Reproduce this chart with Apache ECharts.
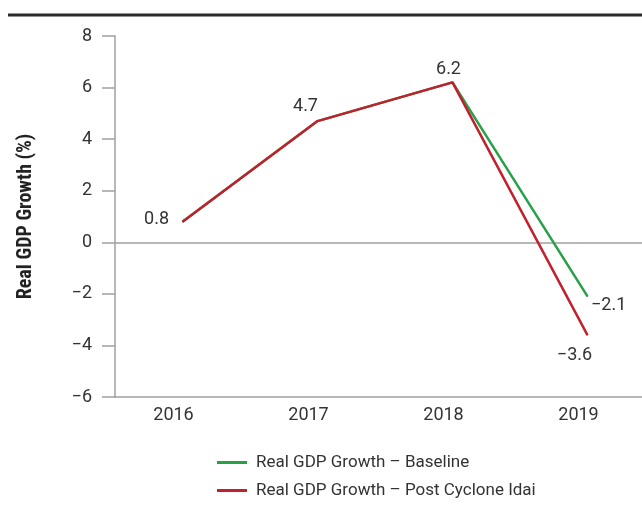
<!DOCTYPE html>
<html>
<head>
<meta charset="utf-8">
<style>
  html, body { margin: 0; padding: 0; background: #fff; }
  #chart { width: 642px; height: 512px; }
</style>
<script src="https://cdn.jsdelivr.net/npm/echarts@6/dist/echarts.min.js"></script>
</head>
<body>
<div id="chart"></div>
<script>
// chart data
var years = ['2016', '2017', '2018', '2019']
var baseline = [0.8, 4.7, 6.2, -2.1]
var postCyclone = [0.8, 4.7, 6.2, -3.6]
var seriesNames = ['Real GDP Growth \u2013 Baseline', 'Real GDP Growth \u2013 Post Cyclone Idai']
var yTicks = { min: -6, max: 8, step: 2 }

var font = "Roboto, 'Liberation Sans', sans-serif"
var textColor = '#333'
var axisColor = '#a0a0a0'
var green = '#27a148'
var red = '#c1212e'

function minus(v) {
  return String(v).replace('-', '\u2212')
}

// where each value label sits (position + small nudge)
var baseLabels = [null, null, null, { position: 'right', offset: [-2, 9] }]
var postLabels = [
  { position: 'left', offset: [-8, -2] },
  { position: 'top', offset: [-12, 0] },
  { position: 'top', offset: [-4, 2] },
  { position: 'bottom', offset: [-13, 6] }
]

function withLabels(values, labels) {
  return values.map(function(v, i) {
    var l = labels[i]
    return {
      value: v,
      label: l ? { show: true, position: l.position, offset: l.offset, distance: 5 } : { show: false }
    }
  })
}

var chart = echarts.init(document.getElementById('chart'))

var valueLabel = {
  color: textColor,
  fontSize: 18,
  fontFamily: font,
  formatter: function(p) { return minus(p.value) }
}

chart.setOption({
  animation: false,
  textStyle: { fontFamily: font },
  grid: {
    left: 115,
    right: -13,
    top: 36,
    bottom: 115,
    outerBoundsMode: 'none'
  },
  graphic: [{
    type: 'line',
    shape: { x1: 8, y1: 15, x2: 642, y2: 15 },
    style: { stroke: '#2b2b2b', lineWidth: 3 }
  }],
  legend: {
    orient: 'vertical',
    left: 212,
    top: 449,
    itemGap: 11,
    itemWidth: 30,
    itemHeight: 3,
    icon: 'rect',
    textStyle: { fontFamily: font, fontSize: 17, color: textColor, padding: [0, 0, 0, 4] },
    data: [
      { name: seriesNames[0], itemStyle: { color: green, opacity: 1 } },
      { name: seriesNames[1], itemStyle: { color: red, opacity: 1 } }
    ]
  },
  xAxis: {
    type: 'category',
    data: years,
    boundaryGap: true,
    axisLine: { onZero: false, lineStyle: { color: axisColor, width: 1.5 } },
    axisTick: { show: false },
    axisLabel: {
      color: textColor,
      fontSize: 18,
      margin: 9,
      padding: [0, 18, 0, 0]
    }
  },
  yAxis: {
    type: 'value',
    min: yTicks.min,
    max: yTicks.max,
    interval: yTicks.step,
    name: 'Real GDP Growth (%)',
    nameLocation: 'middle',
    nameGap: 79,
    nameTextStyle: { fontFamily: "'Roboto Condensed', Roboto, sans-serif", fontSize: 20, fontWeight: 'bold', color: '#222' },
    axisLine: { show: true, lineStyle: { color: axisColor, width: 1.5 } },
    axisTick: { show: true, length: 13, lineStyle: { color: axisColor, width: 1.5 } },
    splitLine: { show: false },
    axisLabel: {
      color: textColor,
      fontSize: 18,
      margin: 23,
      formatter: function(v) { return minus(v) }
    }
  },
  series: [
    {
      name: seriesNames[0],
      type: 'line',
      data: withLabels(baseline, baseLabels),
      symbol: 'circle',
      symbolSize: 1,
      showSymbol: true,
      color: green,
      lineStyle: { width: 2.5, color: green },
      label: valueLabel,
      z: 2,
      markLine: {
        silent: true,
        symbol: 'none',
        label: { show: false },
        lineStyle: { color: axisColor, type: 'solid', width: 1.5 },
        data: [{ yAxis: 0 }],
        z: 1
      }
    },
    {
      name: seriesNames[1],
      type: 'line',
      data: withLabels(postCyclone, postLabels),
      symbol: 'circle',
      symbolSize: 1,
      showSymbol: true,
      color: red,
      lineStyle: { width: 2.5, color: red },
      label: valueLabel,
      z: 3
    }
  ]
})
</script>
</body>
</html>
